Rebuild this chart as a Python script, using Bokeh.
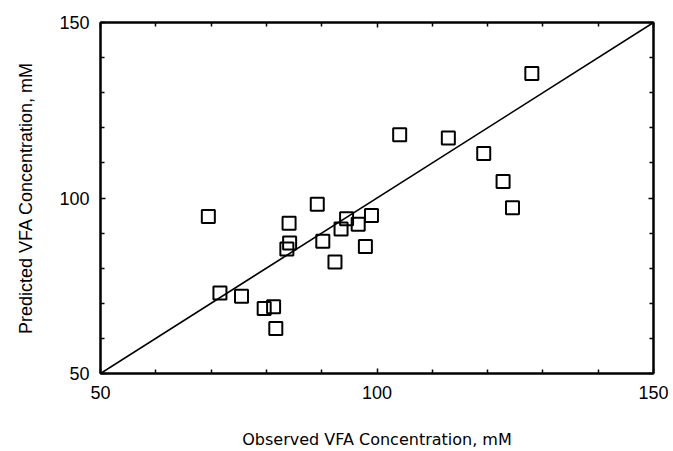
from bokeh.plotting import figure
from bokeh.models import FixedTicker, LinearAxis, Range1d
from bokeh.embed import file_html
from bokeh.resources import INLINE

# Observed vs predicted VFA concentration (mM)
observed = [69.5, 71.6, 75.5, 79.6, 81.3, 81.7, 83.7, 84.2, 84.1, 89.2, 90.2, 92.4,
            93.5, 94.5, 96.6, 97.9, 99.0, 104.1, 112.9, 119.3, 122.8, 124.5, 128.0]
predicted = [94.7, 72.9, 72.0, 68.5, 69.0, 62.8, 85.5, 87.2, 92.8, 98.2, 87.7, 81.8,
             91.2, 94.1, 92.5, 86.2, 95.0, 118.0, 117.1, 112.7, 104.7, 97.2, 135.5]

# 1:1 reference line
line_x = [50, 150]
line_y = [50, 150]

major_ticks = [50, 100, 150]
minor_ticks = [60, 70, 80, 90, 110, 120, 130, 140]

p = figure(width=673, height=451, output_backend="svg", toolbar_location=None,
           x_range=Range1d(50, 150), y_range=Range1d(50, 150),
           min_border_left=100, min_border_right=20,
           min_border_top=22, min_border_bottom=78)
p.grid.visible = False
p.background_fill_color = "white"
p.border_fill_color = "white"
p.outline_line_color = "black"
p.outline_line_width = 2

p.line(line_x, line_y, line_color="black", line_width=1.6)
p.scatter(observed, predicted, marker="square", size=13, fill_color=None,
          line_color="black", line_width=2)

tick_font = "Liberation Sans"


def style_axis(ax, show_labels):
    ax.ticker = FixedTicker(ticks=major_ticks, minor_ticks=minor_ticks)
    ax.major_tick_in = 5
    ax.major_tick_out = 0
    ax.minor_tick_in = 4
    ax.minor_tick_out = 0
    ax.major_tick_line_color = "black"
    ax.minor_tick_line_color = "black"
    ax.major_tick_line_width = 1.5
    ax.minor_tick_line_width = 1.5
    ax.axis_line_color = "black"
    ax.axis_line_width = 2
    if show_labels:
        ax.major_label_text_font = tick_font
        ax.major_label_text_font_size = "18px"
        ax.major_label_text_color = "black"
    else:
        ax.major_label_overrides = {t: "" for t in major_ticks}
        ax.major_label_standoff = 0


xa = p.xaxis[0]
ya = p.yaxis[0]
style_axis(xa, True)
style_axis(ya, True)
xa.major_label_standoff = 12
ya.major_label_standoff = 11

xa.axis_label = "Observed VFA Concentration, mM"
xa.axis_label_text_font = "DejaVu Sans"
xa.axis_label_text_font_style = "normal"
xa.axis_label_text_font_size = "16px"
xa.axis_label_text_color = "black"
xa.axis_label_standoff = 28

ya.axis_label = "Predicted VFA Concentration, mM"
ya.axis_label_text_font = tick_font
ya.axis_label_text_font_style = "normal"
ya.axis_label_text_font_size = "18px"
ya.axis_label_text_color = "black"
ya.axis_label_standoff = 20

top = LinearAxis()
right = LinearAxis()
style_axis(top, False)
style_axis(right, False)
p.add_layout(top, "above")
p.add_layout(right, "right")

open("out.html", "w").write(file_html(p, INLINE))
